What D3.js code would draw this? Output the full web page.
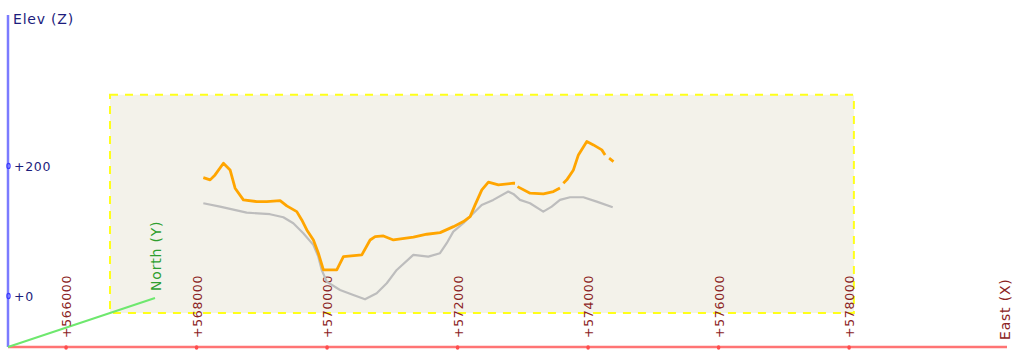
<!DOCTYPE html>
<html>
<head>
<meta charset="utf-8">
<script src="https://cdn.jsdelivr.net/npm/d3@7"></script>
<style>
  body { margin: 0; background: #ffffff; }
  svg { display: block; }
  text { font-family: "DejaVu Sans", Verdana, sans-serif; }
  .tick-label { font-size: 12.5px; letter-spacing: 0.7px; }
  .axis-title { font-size: 14px; letter-spacing: 0.8px; }
</style>
</head>
<body>
<svg id="chart" width="1013" height="351"></svg>
<script>
// Axis extents and ticks (east in metres, elevation in metres)
const eastDomain = [565110, 580420];
const elevDomain = [-78.5, 432];
const eastTicks = [566000, 568000, 570000, 572000, 574000, 576000, 578000];
const elevTicks = [0, 200];

// Vertical section plane: east / elevation extent, position along the north axis (0..1)
const sectionEast = [565110, 576510];
const sectionElev = [-78.5, 257];
const sectionNorth = 0.694;

// Ground profile along the section
const groundEast = [566540, 566796, 567205, 567562, 567766, 567919, 568072, 568226, 568302, 568354,
  568431, 568635, 568839, 569018, 569197, 569351, 569504, 569758, 569988, 570167,
  570270, 570371, 570524, 570678, 570806, 570984, 571214, 571291, 571393, 571547,
  571750, 571879, 572006, 572160, 572364, 572569, 572814];
const groundElev = [90.3, 85.1, 75.8, 73.4, 68.8, 59.5, 44.2, 26.2, 8.2, -12.3,
  -30.3, -43.1, -50.8, -57.4, -48.2, -32.8, -12.3, 10.8, 8.2, 13.4,
  28.8, 46.6, 59.5, 74.9, 87.7, 95.4, 108.2, 104.6, 95.4, 90.3,
  77.4, 85.1, 95.4, 99.5, 99.5, 92.8, 84.2];

// Upper profile along the section (null marks a break in the record)
const upperEast = [566540, 566644, 566720, 566848, 566950, 567027, 567154, 567359, 567513, 567717,
  567819, 567972, 568049, 568126, 568227, 568303, 568380, 568585, 568687, 568969,
  569096, 569173, 569300, 569453, 569760, 569965, 570169, 570373, 570526, 570629,
  570705, 570808, 570909, 571062, 571292, 571317, 571336, 571355, 571548, 571752,
  571905, 572006, 572030, 572057, 572110, 572212, 572288, 572417, 572518, 572647,
  572697, 572728, 572759, 572826];
const upperElev = [129.7, 126.2, 133.8, 151.8, 141.5, 113.4, 95.4, 92.8, 92.8, 94.3,
  86.2, 77.4, 64.6, 49.2, 33.8, 13.4, -12.3, -12.3, 8.2, 10.8,
  33.8, 38.9, 40, 33.8, 38, 42.6, 45.1, 54.3, 62, 69.7,
  87.7, 110.8, 122.6, 118.5, 121.1, 121, null, 115.8, 105.7, 104.6,
  108.2, 113.8, null, 121, 126.2, 141.5, 164.6, 185.1, 180, 172.3,
  164.6, null, 159.5, 154.3];

const svg = d3.select("#chart");

const x = d3.scaleLinear().domain(eastDomain).range([8, 1007]);
const z = d3.scaleLinear().domain(elevDomain).range([347, 15]);
// North axis drawn as an oblique direction (screen offset per unit of north fraction)
const northVec = [147, -49];

function proj(e, elev, n) {
  return [x(e) + n * northVec[0], z(elev) + n * northVec[1]];
}

// Section plane
const p0 = proj(sectionEast[0], sectionElev[1], sectionNorth);
const p1 = proj(sectionEast[1], sectionElev[0], sectionNorth);
svg.append("rect")
  .attr("x", p0[0]).attr("y", p0[1])
  .attr("width", p1[0] - p0[0]).attr("height", p1[1] - p0[1])
  .attr("fill", "#f3f2ea")
  .attr("stroke", "#ffff1a")
  .attr("stroke-width", 2)
  .attr("stroke-dasharray", "8,7");

const origin = proj(eastDomain[0], elevDomain[0], 0);

// East axis
const eEnd = proj(eastDomain[1], elevDomain[0], 0);
svg.append("line")
  .attr("x1", origin[0]).attr("y1", origin[1])
  .attr("x2", eEnd[0]).attr("y2", eEnd[1])
  .attr("stroke", "#ff7474").attr("stroke-width", 2.5);

// Elevation axis
const zEnd = proj(eastDomain[0], elevDomain[1], 0);
svg.append("line")
  .attr("x1", origin[0]).attr("y1", origin[1])
  .attr("x2", zEnd[0]).attr("y2", zEnd[1])
  .attr("stroke", "#7b7bff").attr("stroke-width", 2.5);

// North axis
const nEnd = proj(eastDomain[0], elevDomain[0], 1);
svg.append("line")
  .attr("x1", origin[0]).attr("y1", origin[1])
  .attr("x2", nEnd[0]).attr("y2", nEnd[1])
  .attr("stroke", "#6ee86e").attr("stroke-width", 2);

// East ticks
const eastTickG = svg.append("g").selectAll("g").data(eastTicks).join("g");
eastTickG.append("ellipse")
  .attr("cx", d => x(d)).attr("cy", origin[1] + 0.5)
  .attr("rx", 1.8).attr("ry", 2.2)
  .attr("fill", "#ff4d4d");
eastTickG.append("text")
  .attr("class", "tick-label")
  .attr("transform", d => `translate(${x(d) + 5},${origin[1] - 9}) rotate(-90)`)
  .attr("fill", "#8b2323")
  .text(d => "+" + d);

// Elevation ticks
const elevTickG = svg.append("g").selectAll("g").data(elevTicks).join("g");
elevTickG.append("ellipse")
  .attr("cx", origin[0] + 0.5).attr("cy", d => z(d))
  .attr("rx", 1.6).attr("ry", 2.6)
  .attr("fill", "none").attr("stroke", "#3a3aff").attr("stroke-width", 1.2);
elevTickG.append("text")
  .attr("class", "tick-label")
  .attr("x", origin[0] + 6).attr("y", d => z(d) + 5)
  .attr("fill", "#1c1c7c")
  .text(d => "+" + d);

// Axis titles
svg.append("text")
  .attr("class", "axis-title")
  .attr("x", origin[0] + 5).attr("y", 24)
  .attr("fill", "#1c1c7c")
  .text("Elev (Z)");
svg.append("text")
  .attr("class", "axis-title")
  .attr("transform", `translate(${eEnd[0] + 3},${origin[1] - 7}) rotate(-90)`)
  .attr("fill", "#8b2323")
  .text("East (X)");
svg.append("text")
  .attr("class", "axis-title")
  .attr("transform", `translate(${nEnd[0] + 6},${nEnd[1] - 7}) rotate(-90)`)
  .attr("fill", "#2e9e2e")
  .text("North (Y)");

// Profiles on the section plane
const line = d3.line()
  .defined(d => d[1] !== null)
  .x(d => proj(d[0], d[1], sectionNorth)[0])
  .y(d => proj(d[0], d[1], sectionNorth)[1]);

svg.append("path")
  .datum(d3.zip(groundEast, groundElev))
  .attr("d", line)
  .attr("fill", "none")
  .attr("stroke", "#bdbdbd")
  .attr("stroke-width", 2.2)
  .attr("stroke-linejoin", "round");

svg.append("path")
  .datum(d3.zip(upperEast, upperElev))
  .attr("d", line)
  .attr("fill", "none")
  .attr("stroke", "#ffa500")
  .attr("stroke-width", 2.8)
  .attr("stroke-linejoin", "round");
</script>
</body>
</html>
